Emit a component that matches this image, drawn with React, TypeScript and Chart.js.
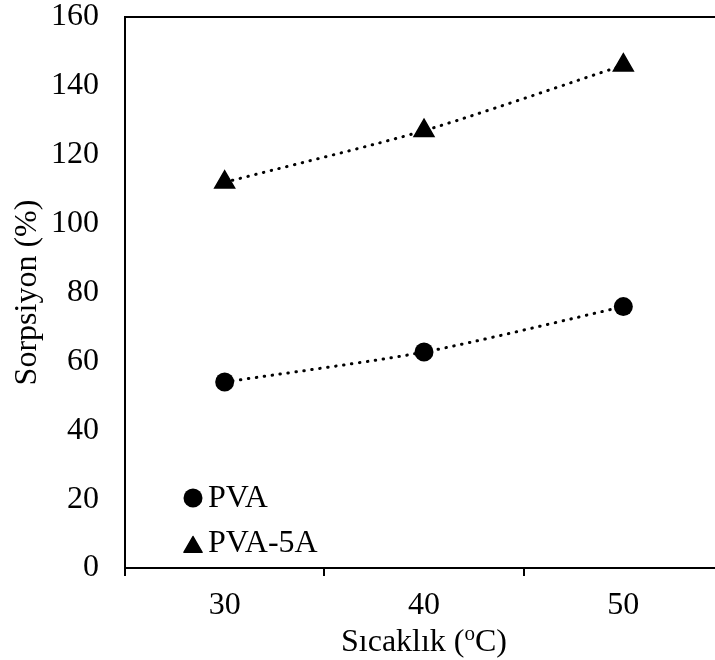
import React, { useEffect, useRef } from "react";
import { Chart, registerables } from "chart.js";

Chart.register(...registerables);

const categories = ["30", "40", "50"];
const pvaValues = [54, 62.7, 75.9];
const pva5aValues = [112, 127, 146];
const seriesNames = ["PVA", "PVA-5A"];
const yTitle = "Sorpsiyon (%)";
const xTitleMain = "Sıcaklık (";
const xTitleSup = "o";
const xTitleEnd = "C)";

const FONT = "'Liberation Serif', 'Times New Roman', serif";
const FS = 32;

const overlay = {
  id: "overlay",
  afterDraw(chart: any) {
    const { ctx, chartArea } = chart;
    const { left, right, top, bottom } = chartArea;
    ctx.save();
    // top border
    ctx.strokeStyle = "#000";
    ctx.lineWidth = 2;
    ctx.beginPath();
    ctx.moveTo(left - 1, top);
    ctx.lineTo(right + 20, top);
    ctx.stroke();

    // legend
    ctx.fillStyle = "#000";
    const lx = left + 68;
    const ly1 = bottom - 70;
    const ly2 = bottom - 21;
    ctx.beginPath();
    ctx.arc(lx, ly1, 9.5, 0, Math.PI * 2);
    ctx.fill();
    const r = 10.5;
    ctx.beginPath();
    for (let i = 0; i < 3; i++) {
      const a = (i * 2 * Math.PI) / 3;
      const px = lx + Math.sin(a) * r;
      const py = ly2 - Math.cos(a) * r;
      if (i === 0) ctx.moveTo(px, py);
      else ctx.lineTo(px, py);
    }
    ctx.closePath();
    ctx.lineJoin = "round";
    ctx.lineWidth = 1.5;
    ctx.fill();
    ctx.stroke();
    ctx.font = `${FS}px ${FONT}`;
    ctx.textBaseline = "alphabetic";
    ctx.textAlign = "left";
    ctx.fillText(seriesNames[0], lx + 15, ly1 + 9);
    ctx.fillText(seriesNames[1], lx + 15, ly2 + 5);

    // x title with superscript, centred on the plot
    const cx = (left + right) / 2;
    const base = 651;
    ctx.font = `${FS}px ${FONT}`;
    const w1 = ctx.measureText(xTitleMain).width;
    const w3 = ctx.measureText(xTitleEnd).width;
    const supFs = Math.round(FS * 0.65);
    ctx.font = `${supFs}px ${FONT}`;
    const w2 = ctx.measureText(xTitleSup).width;
    const total = w1 + w2 + w3;
    let x = cx - total / 2;
    ctx.font = `${FS}px ${FONT}`;
    ctx.fillText(xTitleMain, x, base);
    x += w1;
    ctx.font = `${supFs}px ${FONT}`;
    ctx.fillText(xTitleSup, x, base - 11);
    x += w2;
    ctx.font = `${FS}px ${FONT}`;
    ctx.fillText(xTitleEnd, x, base);
    ctx.restore();
  },
};

export default function App() {
  const ref = useRef<HTMLCanvasElement>(null);
  useEffect(() => {
    const canvas = ref.current!;
    const chart = new Chart(canvas, {
      type: "line",
      data: {
        labels: categories,
        datasets: [
          {
            label: seriesNames[0],
            data: pvaValues,
            borderColor: "#000",
            backgroundColor: "#000",
            borderWidth: 3,
            borderDash: [0.5, 7.5],
            borderCapStyle: "round",
            tension: 0.25,
            pointStyle: "circle",
            pointRadius: 9.5,
            pointBorderWidth: 0,
            pointBackgroundColor: "#000",
          },
          {
            label: seriesNames[1],
            data: pva5aValues,
            borderColor: "#000",
            backgroundColor: "#000",
            borderWidth: 3,
            borderDash: [0.5, 7.5],
            borderCapStyle: "round",
            tension: 0.25,
            pointStyle: "triangle",
            pointRadius: 11.5,
            pointBorderWidth: 1.5,
            pointBorderColor: "#000",
            pointBackgroundColor: "#000",
          },
        ],
      },
      options: {
        responsive: false,
        animation: false,
        layout: { padding: { top: 17, right: 0, left: 0, bottom: 0 } },
        plugins: { legend: { display: false }, tooltip: { enabled: false } },
        scales: {
          x: {
            type: "category",
            offset: true,
            grid: {
              display: true,
              drawOnChartArea: false,
              drawTicks: true,
              tickLength: 8,
              color: "#000",
              lineWidth: 2,
              offset: true,
            },
            border: { display: true, color: "#000", width: 2 },
            ticks: {
              color: "#000",
              font: { family: FONT, size: FS },
              padding: 10,
              maxRotation: 0,
            },
            afterFit: (s: any) => {
              s.height = 92;
              s.paddingLeft = 0;
              s.paddingRight = 0;
            },
          },
          y: {
            min: 0,
            max: 160,
            grid: { display: false, drawTicks: false },
            border: { display: true, color: "#000", width: 2 },
            ticks: {
              stepSize: 20,
              color: "#000",
              font: { family: FONT, size: FS },
              padding: 26,
            },
            title: {
              display: true,
              text: yTitle,
              color: "#000",
              font: { family: FONT, size: FS },
              padding: { top: 8, bottom: 0 },
            },
            afterFit: (s: any) => {
              s.width = 125;
              s.paddingTop = 0;
              s.paddingBottom = 0;
            },
          },
        },
      },
      plugins: [overlay],
    });
    return () => chart.destroy();
  }, []);
  return (
    <canvas
      ref={ref}
      width={736}
      height={660}
      style={{ position: "fixed", left: 0, top: 0, display: "block", width: 736, height: 660 }}
    />
  );
}
